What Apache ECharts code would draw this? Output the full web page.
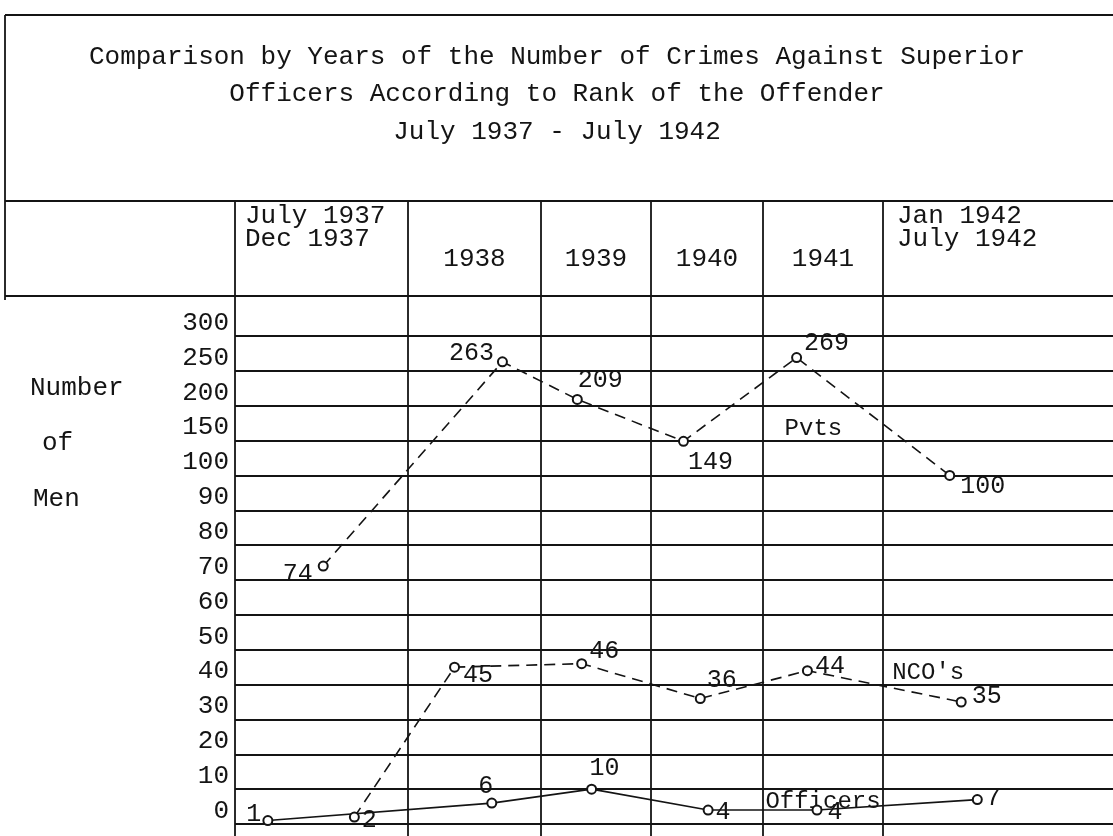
<!DOCTYPE html>
<html>
<head>
<meta charset="utf-8">
<script src="https://cdn.jsdelivr.net/npm/echarts@6/dist/echarts.min.js"></script>
<style>
  html, body { margin: 0; padding: 0; background: #fff; }
  #chart { width: 1113px; height: 836px; }
</style>
</head>
<body>
<div id="chart"></div>
<script>
// column heads of the table
var periods = ['July 1937\nDec 1937', '1938', '1939', '1940', '1941', 'Jan 1942\nJuly 1942']
// value rows, bottom to top (step changes above 100)
var yTicks = [0, 10, 20, 30, 40, 50, 60, 70, 80, 90, 100, 150, 200, 250, 300]

// values, and where in each period column the point was put (period index + fraction)
var pvts = [74, 263, 209, 149, 269, 100]
var pvtsAt = [0.51, 1.71, 2.33, 3.29, 4.28, 5.29]
var ncos = [2, 45, 46, 36, 44, 35]
var ncosAt = [0.69, 1.35, 2.37, 3.44, 4.37, 5.34]
var officers = [1, 6, 10, 4, 4, 7]
var officersAt = [0.19, 1.63, 2.46, 3.51, 4.45, 5.41]

var titleLines = [
  'Comparison by Years of the Number of Crimes Against Superior',
  'Officers According to Rank of the Offender',
  'July 1937 - July 1942'
]

// layout
var colW = [173, 133, 110, 112, 120, 230]
var FONT = '"Liberation Mono", "DejaVu Sans Mono", monospace'
var INK = '#141414'

function periodX(p) {
  var i = Math.min(Math.floor(p), colW.length - 1)
  var x = 0
  for (var k = 0; k < i; k++) x += colW[k]
  return x + (p - i) * colW[i]
}
// the paper scale: equal rows, 10 a row up to 100, then 50 a row
function rowY(v) {
  for (var i = 1; i < yTicks.length; i++) {
    if (v <= yTicks[i]) return i - 1 + (v - yTicks[i - 1]) / (yTicks[i] - yTicks[i - 1])
  }
  return yTicks.length - 1
}

// label placement for each point: [position, dx, dy]
var pvtsLbl = [['left', 0, 8], ['left', 2, -8], ['top', 23, 4], ['bottom', 27, -2], ['right', -3, -14], ['right', 0, 11]]
var ncosLbl = [['right', -3, 3], ['right', -2, 8], ['right', -3, -12], ['right', -4, -18], ['right', -3, -4], ['right', 0, -6]]
var offLbl = [['left', 4, -6], ['top', -6, 6], ['top', 13, 2], ['right', -3, 2], ['right', 0, 2], ['right', -2, -1]]

function points(vals, at, lbl) {
  return vals.map(function (v, i) {
    return {
      value: [periodX(at[i]), rowY(v)],
      label: { position: lbl[i][0], offset: [lbl[i][1], lbl[i][2]] }
    }
  })
}

function lineSeries(name, vals, at, lbl, dashed, tag) {
  return {
    name: name,
    type: 'line',
    data: points(vals, at, lbl),
    symbol: 'emptyCircle',
    symbolSize: 9,
    lineStyle: { color: INK, width: 1.6, type: dashed ? [11, 7] : 'solid' },
    itemStyle: { color: INK, borderColor: INK, borderWidth: 1.3 },
    label: {
      show: true,
      distance: 5,
      color: INK,
      fontFamily: FONT,
      fontSize: 25,
      formatter: function (p) { return String(vals[p.dataIndex]) }
    },
    markPoint: {
      symbol: 'circle',
      symbolSize: 0,
      silent: true,
      data: [{
        coord: [periodX(tag.at), rowY(tag.y)],
        label: {
          show: true,
          formatter: name,
          position: [0, 0],
          align: 'left',
          verticalAlign: tag.va,
          color: INK,
          fontFamily: FONT,
          fontSize: 24
        }
      }]
    },
    z: 5
  }
}

var chart = echarts.init(document.getElementById('chart'))

var option = {
  animation: false,
  backgroundColor: '#fff',
  grid: { left: 235, right: 0, top: 336, bottom: 12 },
  xAxis: {
    type: 'value',
    min: 0,
    max: colW.reduce(function (a, b) { return a + b }, 0),
    show: false
  },
  yAxis: {
    type: 'value',
    min: 0,
    max: yTicks.length - 1,
    interval: 1,
    axisLine: { show: false },
    axisTick: { show: false },
    axisLabel: {
      margin: 6,
      verticalAlign: 'bottom',
      color: INK,
      fontFamily: FONT,
      fontSize: 26,
      formatter: function (v) { return String(yTicks[v]) }
    },
    splitLine: { show: true, lineStyle: { color: INK, width: 1.8 } }
  },
  series: [
    lineSeries('Pvts', pvts, pvtsAt, pvtsLbl, true, { at: 4.18, y: 150, va: 'bottom' }),
    lineSeries("NCO's", ncos, ncosAt, ncosLbl, true, { at: 5.04, y: 40, va: 'bottom' }),
    lineSeries('Officers', officers, officersAt, offLbl, false, { at: 4.02, y: 10, va: 'top' })
  ]
}
chart.setOption(option)

// table rules and heads, placed from the axis scale
var W = 1113, H = 836
var headTop = 201, headBottom = 296
var g = []
function rule(x1, y1, x2, y2) {
  g.push({ type: 'line', silent: true, z: 1, shape: { x1: x1, y1: y1, x2: x2, y2: y2 }, style: { stroke: INK, lineWidth: 1.8 } })
}
function text(str, x, y, align, va, size, lh) {
  g.push({
    type: 'text', silent: true, z: 10, x: x, y: y,
    style: { text: str, fill: INK, font: (size || 26) + 'px ' + FONT, textAlign: align, textVerticalAlign: va, lineHeight: lh || 24 }
  })
}

rule(5, 15, W, 15)
rule(5, 15, 5, headBottom + 4)
rule(5, headTop, W, headTop)
rule(5, headBottom, W, headBottom)

var edge = 0
for (var i = 0; i < periods.length; i++) {
  var px = chart.convertToPixel({ xAxisIndex: 0 }, edge)
  var nx = chart.convertToPixel({ xAxisIndex: 0 }, edge + colW[i])
  rule(px, headTop, px, H)
  if (periods[i].indexOf('\n') >= 0) {
    text(periods[i], px + (i === 0 ? 10 : 14), headTop + 4, 'left', 'top', 26, 23)
  } else {
    text(periods[i], (px + nx) / 2, 259, 'center', 'middle', 26)
  }
  edge += colW[i]
}

titleLines.forEach(function (t, k) {
  text(t, 557, [57, 94, 132][k], 'center', 'middle', 26)
})

text('Number', 30, 388, 'left', 'middle', 26)
text('of', 42, 443, 'left', 'middle', 26)
text('Men', 33, 499, 'left', 'middle', 26)

chart.setOption({ graphic: g })
</script>
</body>
</html>
